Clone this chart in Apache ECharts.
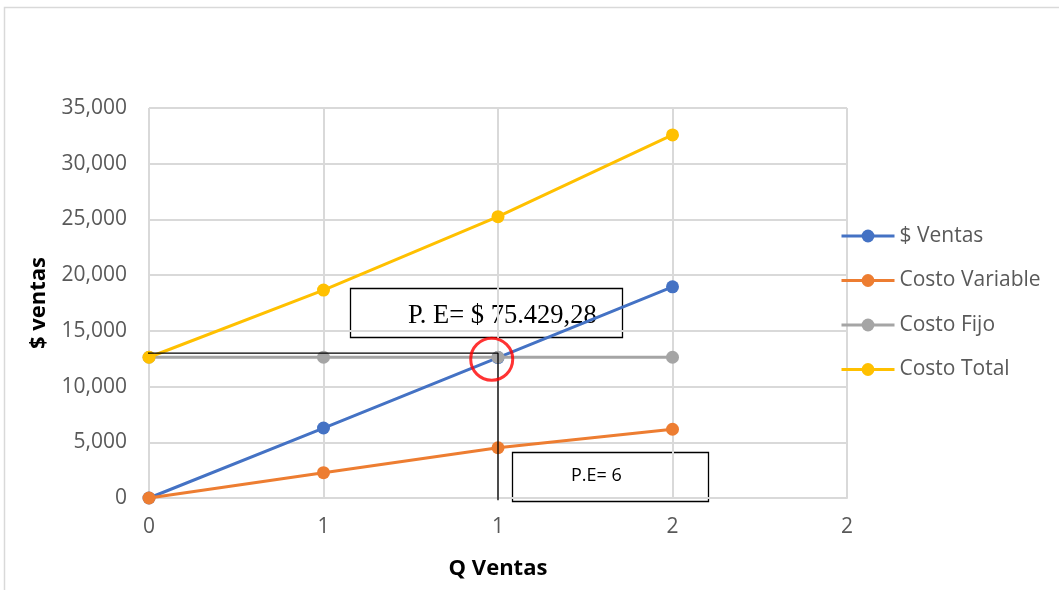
<!DOCTYPE html>
<html>
<head>
<meta charset="utf-8">
<script src="https://cdn.jsdelivr.net/npm/echarts@6/dist/echarts.min.js"></script>
<style>
  html, body { margin: 0; padding: 0; background: #fff; }
  #chart { width: 1059px; height: 590px; }
</style>
</head>
<body>
<div id="chart"></div>
<script>
// Break-even chart: quantity sold vs. sales revenue and costs
const qValues      = [0, 0.5, 1.0, 1.5];
const xTickLabels  = ['0', '1', '1', '2', '2'];
const ventas       = [0, 6280, 12600, 18950];
const costoVar     = [0, 2270, 4510, 6170];
const costoFijo    = [12630, 12630, 12630, 12630];
const costoTotal   = [12630, 18660, 25250, 32580];
const seriesNames  = ['$ Ventas', 'Costo Variable', 'Costo Fijo', 'Costo Total'];
const seriesColors = ['#4472C4', '#ED7D31', '#A5A5A5', '#FFC000'];

// Break-even guide lines and highlight
const peGuideX  = [-0.032, 1.0, 1.0];
const peGuideY  = [13000, 13000, -200];
const peCircle  = [0.982, 12450];
const peLabelValue = 'P. E= $ 75.429,28';
const peLabelQty   = 'P.E= 6';

const pair = (xs, ys) => xs.map((x, i) => [x, ys[i]]);
const uiFont = '"Open Sans", sans-serif';

const lineSeries = [ventas, costoVar, costoFijo, costoTotal].map((vals, i) => ({
  name: seriesNames[i],
  type: 'line',
  data: pair(qValues, vals),
  symbol: 'circle',
  symbolSize: 13,
  lineStyle: { width: 3, color: seriesColors[i] },
  itemStyle: { color: seriesColors[i] },
  emphasis: { disabled: true },
  z: 3 + i
}));

const chart = echarts.init(document.getElementById('chart'), null, { renderer: 'canvas' });
chart.setOption({
  animation: false,
  backgroundColor: '#fff',
  grid: { left: 149, right: 212, top: 108, bottom: 92, containLabel: false },
  xAxis: {
    type: 'value', min: 0, max: 2, interval: 0.5,
    name: 'Q Ventas', nameLocation: 'middle', nameGap: 60,
    nameTextStyle: { fontFamily: uiFont, fontWeight: 'bold', fontSize: 22, color: '#000' },
    axisLine: { show: true, lineStyle: { color: '#D9D9D9', width: 2 } },
    axisTick: { show: false },
    axisLabel: {
      fontFamily: uiFont, fontSize: 21, color: '#595959', margin: 19,
      formatter: (v) => xTickLabels[Math.round(v / 0.5)]
    },
    splitLine: { show: true, lineStyle: { color: '#D9D9D9', width: 2 } }
  },
  yAxis: {
    type: 'value', min: 0, max: 35000, interval: 5000,
    name: '$ ventas', nameLocation: 'middle', nameGap: 99,
    nameTextStyle: { fontFamily: uiFont, fontWeight: 'bold', fontSize: 22, color: '#000' },
    axisLine: { show: false },
    axisTick: { show: false },
    axisLabel: {
      fontFamily: uiFont, fontSize: 21, color: '#595959', margin: 22,
      formatter: (v) => v.toLocaleString('en-US')
    },
    splitLine: { show: true, lineStyle: { color: '#D9D9D9', width: 2 } }
  },
  legend: {
    data: seriesNames,
    orient: 'vertical',
    left: 840, top: 225, padding: 0,
    itemWidth: 53, itemHeight: 16, itemGap: 22.5,
    lineStyle: { width: 3 },
    textStyle: { fontFamily: uiFont, fontSize: 21, color: '#595959', lineHeight: 22 }
  },
  series: lineSeries.concat([
    {
      name: 'guide',
      type: 'line',
      data: pair(peGuideX, peGuideY),
      symbol: 'none',
      clip: false,
      lineStyle: { color: '#000', width: 1.3 },
      z: 8,
      silent: true
    },
    {
      name: 'highlight',
      type: 'scatter',
      data: [peCircle],
      symbol: 'circle',
      symbolSize: 42,
      itemStyle: { color: 'rgba(0,0,0,0)', borderColor: '#FF0000', borderWidth: 3 },
      z: 9,
      silent: true
    }
  ]),
  graphic: [
    {
      type: 'rect', shape: { x: 4.5, y: 7.5, width: 1100, height: 700 },
      style: { fill: 'none', stroke: '#D9D9D9', lineWidth: 1.5 }, silent: true, z: 0
    },
    {
      type: 'group', z: 20,
      children: [
        { type: 'rect', shape: { x: 350.5, y: 288.5, width: 272, height: 49 },
          style: { fill: '#fff', stroke: '#000', lineWidth: 1.3 } },
        { type: 'text', x: 408, y: 316,
          style: { text: peLabelValue, font: '26.5px "Liberation Serif", "Times New Roman", serif',
                   fill: '#000', verticalAlign: 'middle', textAlign: 'left' } }
      ]
    },
    {
      type: 'group', z: 20,
      children: [
        { type: 'rect', shape: { x: 512.5, y: 452.5, width: 196, height: 49 },
          style: { fill: '#fff', stroke: '#000', lineWidth: 1.3 } },
        { type: 'text', x: 571, y: 476,
          style: { text: peLabelQty, font: '18px "Open Sans", sans-serif',
                   fill: '#000', verticalAlign: 'middle', textAlign: 'left' } }
      ]
    }
  ]
});
</script>
</body>
</html>
